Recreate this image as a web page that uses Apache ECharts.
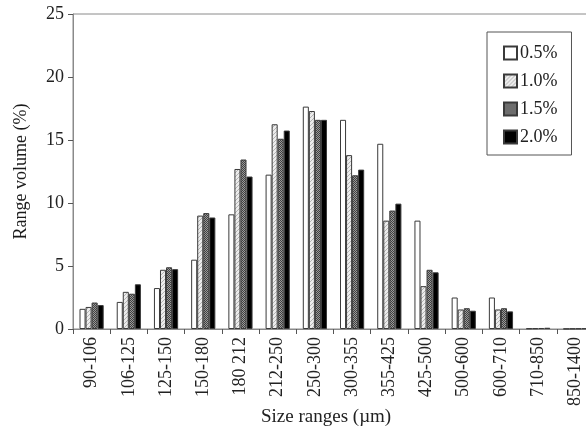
<!DOCTYPE html>
<html>
<head>
<meta charset="utf-8">
<script src="https://cdn.jsdelivr.net/npm/echarts@6/dist/echarts.min.js"></script>
<style>
html,body{margin:0;padding:0;background:#fff;}
#chart{width:586px;height:430px;}
</style>
</head>
<body>
<div id="chart"></div>
<script>
var categories = ['90-106','106-125','125-150','150-180','180 212','212-250','250-300','300-355','355-425','425-500','500-600','600-710','710-850','850-1400'];
var seriesNames = ['0.5%','1.0%','1.5%','2.0%'];
var s05 = [1.6, 2.15, 3.25, 5.5, 9.1, 12.25, 17.65, 16.6, 14.7, 8.6, 2.5, 2.5, 0.05, 0.02];
var s10 = [1.75, 2.95, 4.7, 9.0, 12.7, 16.25, 17.3, 13.8, 8.6, 3.4, 1.55, 1.55, 0.06, 0.03];
var s15 = [2.1, 2.8, 4.9, 9.2, 13.45, 15.1, 16.6, 12.2, 9.4, 4.7, 1.65, 1.65, 0.08, 0.04];
var s20 = [1.9, 3.55, 4.75, 8.85, 12.1, 15.75, 16.6, 12.65, 9.95, 4.5, 1.45, 1.4, 0.1, 0.05];
var yTicks = [0, 5, 10, 15, 20, 25];

function hatchPattern() {
  var c = document.createElement('canvas');
  c.width = 4; c.height = 4;
  var g = c.getContext('2d');
  g.fillStyle = '#ececec'; g.fillRect(0,0,4,4);
  g.fillStyle = '#b4b4b4';
  for (var i = 0; i < 4; i++) { g.fillRect(i, 3 - i, 1, 1); }
  return c;
}
function checkPattern() {
  var c = document.createElement('canvas');
  c.width = 2; c.height = 2;
  var g = c.getContext('2d');
  g.fillStyle = '#9a9a9a'; g.fillRect(0,0,2,2);
  g.fillStyle = '#404040'; g.fillRect(0,0,1,1); g.fillRect(1,1,1,1);
  return c;
}

var fills = [
  '#ffffff',
  {image: hatchPattern(), repeat: 'repeat'},
  {image: checkPattern(), repeat: 'repeat'},
  '#000000'
];
var dataSets = [s05, s10, s15, s20];
var serif = '"Liberation Serif", "DejaVu Serif", serif';

var chart = echarts.init(document.getElementById('chart'), null, {renderer: 'canvas'});
var series = seriesNames.map(function (n, i) {
  return {
    name: n,
    type: 'bar',
    data: dataSets[i],
    barGap: '0%',
    barCategoryGap: '35%',
    itemStyle: {color: fills[i], borderColor: '#3a3a3a', borderWidth: 1},
    emphasis: {disabled: true},
    animation: false
  };
});

chart.setOption({
  animation: false,
  grid: {left: 73, top: 14, width: 521, height: 315, outerBoundsMode: 'none', containLabel: false,
    show: true, borderColor: '#8a8a8a', borderWidth: 1, backgroundColor: 'transparent'},
  legend: {
    orient: 'vertical',
    left: 487, top: 32,
    data: seriesNames,
    itemWidth: 13, itemHeight: 13, itemGap: 10,
    padding: [12, 14, 9, 16],
    borderColor: '#555', borderWidth: 1,
    textStyle: {fontFamily: serif, fontSize: 18, color: '#222', padding: [0,0,0,-2], lineHeight: 18},
    icon: 'rect'
  },
  xAxis: {
    type: 'category',
    data: categories,
    axisLine: {lineStyle: {color: '#8a8a8a', width: 1}},
    axisTick: {show: true, length: 5, inside: false, lineStyle: {color: '#555'}},
    axisLabel: {rotate: 90, interval: 0, margin: 8, fontFamily: serif, fontSize: 18, color: '#222'}
  },
  yAxis: {
    type: 'value',
    min: 0, max: 25, interval: 5,
    name: 'Range volume (%)',
    nameLocation: 'middle',
    nameGap: 43,
    nameTextStyle: {fontFamily: serif, fontSize: 18, color: '#1a1a1a'},
    axisLine: {show: true, lineStyle: {color: '#8a8a8a', width: 1}},
    axisTick: {show: true, length: 5, lineStyle: {color: '#555'}},
    splitLine: {show: false},
    axisLabel: {margin: 9, fontFamily: serif, fontSize: 18, color: '#222',
      formatter: function (v) { return yTicks.indexOf(v) >= 0 ? String(v) : ''; }}
  },
  graphic: [{
    type: 'text', left: 261, top: 408,
    style: {text: 'Size ranges (\u00b5m)', fontFamily: serif, fontSize: 19, fill: '#222'}
  }],
  series: series
});
</script>
</body>
</html>
